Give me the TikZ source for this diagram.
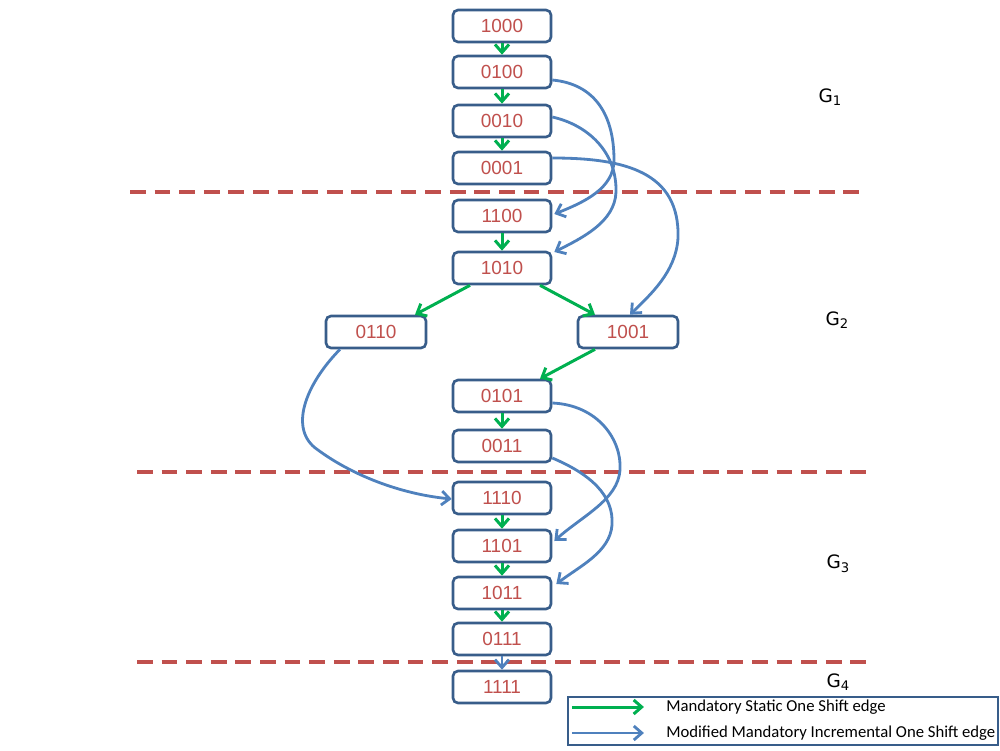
\documentclass[tikz,border=0pt]{standalone}
\usepackage{fontspec}
\setmainfont{Carlito}
\newfontfamily\nodefont{Liberation Sans}
\newfontfamily\gfont{DejaVu Sans}
\usetikzlibrary{arrows.meta,calc}
\definecolor{boxblue}{HTML}{385D8A}
\definecolor{txtred}{HTML}{C0504D}
\definecolor{egreen}{HTML}{00B050}
\definecolor{eblue}{HTML}{4F81BD}
\newcommand{\gsub}[1]{G\raisebox{-0.35ex}{\fontsize{7.5}{8}\selectfont #1}}
\begin{document}
\begin{tikzpicture}[x=0.2mm,y=-0.2mm,
  state/.style={draw=boxblue,line width=1.5pt,rounded corners=1mm,fill=white,
    minimum width=19.6mm,minimum height=6.4mm,inner sep=0pt,
    text=txtred,font=\nodefont\fontsize{10.8}{13}\selectfont},
  wide/.style={minimum width=20mm},
  gedge/.style={draw=egreen,line width=1.7pt,-{Straight Barb[length=1.6mm,width=2.8mm]}},
  bedge/.style={draw=eblue,line width=1.6pt,-{Straight Barb[length=1.6mm,width=2.8mm]}},
  sep/.style={draw=txtred,line width=1.9pt,dash pattern=on 9pt off 5pt},
  glabel/.style={font=\gfont\fontsize{10.5}{12}\selectfont,inner sep=0pt},
  legtext/.style={font=\fontsize{9.5}{11}\selectfont,anchor=west,inner sep=0pt}]
\useasboundingbox (0,0) rectangle (1000,750);
% separators
\draw[sep] (130,192) -- (865,192);
\draw[sep] (137,472) -- (872,472);
\draw[sep] (137,662) -- (872,662);
% nodes
\node[state] (n1000) at (502,26) {1000};
\node[state] (n0100) at (502,72) {0100};
\node[state] (n0010) at (502,121) {0010};
\node[state] (n0001) at (502,168) {0001};
\node[state] (n1100) at (502,216) {1100};
\node[state] (n1010) at (502,268) {1010};
\node[state,wide] (n0110) at (376,332) {0110};
\node[state,wide] (n1001) at (628,332) {1001};
\node[state] (n0101) at (502,396) {0101};
\node[state] (n0011) at (502,446) {0011};
\node[state] (n1110) at (502,498) {1110};
\node[state] (n1101) at (502,546) {1101};
\node[state] (n1011) at (502,593) {1011};
\node[state] (n0111) at (502,639) {0111};
\node[state] (n1111) at (502,687) {1111};
% group labels
\node[glabel] (g1) at (830,97) {\gsub{1}};
\node[glabel] (g2) at (837,320) {\gsub{2}};
\node[glabel] (g3) at (838,564) {\gsub{3}};
\node[glabel] (g4) at (838,682) {\gsub{4}};
% green edges
\draw[gedge] (n1000.south) -- (n0100.north);
\draw[gedge] (n0100.south) -- (n0010.north);
\draw[gedge] (n0010.south) -- (n0001.north);
\draw[gedge] (n1100.south) -- (n1010.north);
\draw[gedge] ($(n1010.south)+(-32,0)$) -- ($(n0110.north)+(39,0)$);
\draw[gedge] ($(n1010.south)+(38,0)$) -- ($(n1001.north)+(-33,0)$);
\draw[gedge] ($(n1001.south)+(-33,0)$) -- ($(n0101.north)+(38,0)$);
\draw[gedge] (n0101.south) -- (n0011.north);
\draw[gedge] (n1110.south) -- (n1101.north);
\draw[gedge] (n1101.south) -- (n1011.north);
\draw[gedge] (n1011.south) -- (n0111.north);
\draw[bedge] (n0111.south) -- (n1111.north);
% blue curved edges
\draw[bedge] ($(n0100.east)+(0,8)$) .. controls (595,84) and (614,115) .. (614,160)
  .. controls (614,188) and (585,202) .. ($(n1100.east)+(2,-2)$);
\draw[bedge] ($(n0010.east)+(0,-4)$) .. controls (588,125) and (617,152) .. (616,192)
  .. controls (615,222) and (582,238) .. ($(n1010.east)+(2,-16)$);
\draw[bedge] ($(n0001.east)+(0,-10)$) .. controls (625,158) and (680,172) .. (678,238)
  .. controls (676,272) and (650,295) .. ($(n1001.north)+(2,0)$);
\draw[bedge] ($(n0110.south)+(-36,0)$) .. controls (305,385) and (288,430) .. (318,450)
  .. controls (352,475) and (400,494) .. ($(n1110.west)+(0,1)$);
\draw[bedge] ($(n0101.east)+(0,7)$) .. controls (598,405) and (622,440) .. (620,470)
  .. controls (618,500) and (582,516) .. ($(n1101.east)+(2,-5)$);
\draw[bedge] ($(n0011.east)+(0,12)$) .. controls (590,474) and (614,495) .. (612,525)
  .. controls (610,552) and (580,566) .. ($(n1011.east)+(4,-9)$);
% legend
\node[draw=boxblue,line width=1.2pt,minimum width=86mm,minimum height=9.6mm,inner sep=0pt] (leg) at (783,721) {};
\coordinate (la1) at ($(leg.west)+(5,-14)$);
\coordinate (lb1) at ($(leg.west)+(77,-14)$);
\coordinate (la2) at ($(leg.west)+(5,12)$);
\coordinate (lb2) at ($(leg.west)+(77,12)$);
\draw[gedge] (la1) -- (lb1);
\draw[bedge] (la2) -- (lb2);
\node[legtext] (lt1) at ($(leg.west)+(99,-14)$) {Mandatory Static One Shift edge};
\node[legtext] (lt2) at ($(leg.west)+(99,12)$) {Modified Mandatory Incremental One Shift edge};
\end{tikzpicture}
\end{document}
